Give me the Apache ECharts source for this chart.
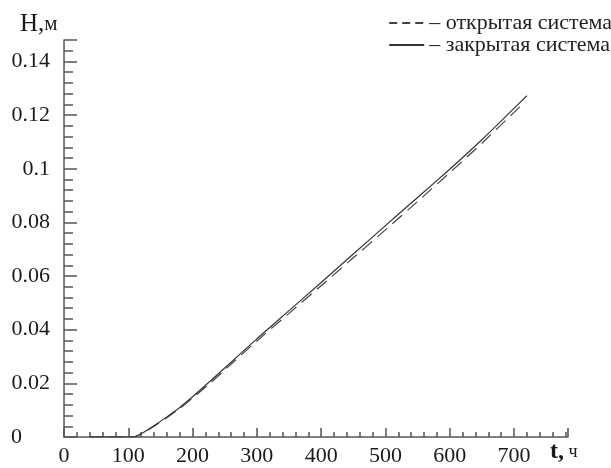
<!DOCTYPE html>
<html>
<head>
<meta charset="utf-8">
<script src="https://cdn.jsdelivr.net/npm/echarts@6/dist/echarts.min.js"></script>
<style>
  html, body { margin: 0; padding: 0; background: #fff; }
  #chart { width: 611px; height: 468px; }
</style>
</head>
<body>
<div id="chart"></div>
<script>
// t, ч  /  H, м
var openSys = [
  [40, 0], [108, 0], [120, 0.0011], [140, 0.0040], [160, 0.0072], [180, 0.0106],
  [200, 0.0145], [225, 0.0196], [250, 0.0250], [300, 0.0358], [350, 0.0461],
  [400, 0.0564], [450, 0.0668], [500, 0.0772], [550, 0.0878], [600, 0.0985],
  [650, 0.1095], [700, 0.1210], [717, 0.1250]
]
var closedSys = [
  [40, 0], [108, 0], [120, 0.0012], [140, 0.0042], [160, 0.0075], [180, 0.0110],
  [200, 0.0150], [225, 0.0203], [250, 0.0257], [300, 0.0366], [350, 0.0471],
  [400, 0.0576], [450, 0.0682], [500, 0.0788], [550, 0.0893], [600, 0.0998],
  [650, 0.1108], [700, 0.1225], [720, 0.1272]
]
var seriesNames = ['– открытая система', '– закрытая система']

var serif = '"Liberation Serif", "DejaVu Serif", serif'
var chart = echarts.init(document.getElementById('chart'))

chart.setOption({
  animation: false,
  backgroundColor: '#fff',
  grid: { left: 64, right: 43, top: 40, bottom: 31 },
  legend: {
    orient: 'vertical',
    right: -6,
    top: 7,
    itemWidth: 35,
    itemHeight: 8,
    itemGap: 0,
    itemStyle: { opacity: 0 },
    textStyle: { fontFamily: serif, fontSize: 22, color: '#222' },
    data: [
      { name: seriesNames[0], lineStyle: { type: [8, 5] } },
      { name: seriesNames[1] }
    ]
  },
  xAxis: {
    type: 'value',
    min: 0,
    max: 784,
    interval: 100,
    axisLine: { lineStyle: { color: '#555', width: 1.5 } },
    axisTick: { inside: true, length: 9, lineStyle: { color: '#555', width: 1.5 } },
    minorTick: { show: true, splitNumber: 5, length: 5, lineStyle: { color: '#555', width: 1.5 } },
    splitLine: { show: false },
    axisLabel: {
      fontFamily: serif, fontSize: 22, color: '#1a1a1a', margin: 8,
      showMaxLabel: false,
      formatter: function (v) { return v > 700 ? '' : v }
    }
  },
  yAxis: {
    type: 'value',
    min: 0,
    max: 0.148,
    interval: 0.02,
    axisLine: { lineStyle: { color: '#555', width: 1.5 } },
    axisTick: { inside: true, length: 13, lineStyle: { color: '#555', width: 1.5 } },
    minorTick: { show: true, splitNumber: 5, length: 9, lineStyle: { color: '#555', width: 1.5 } },
    splitLine: { show: false },
    axisLabel: {
      fontFamily: serif, fontSize: 22, color: '#1a1a1a', margin: 14,
      showMaxLabel: false,
      formatter: function (v) {
        if (v > 0.145) return ''
        if (v === 0) return '{z|0}'
        return +v.toFixed(2) + ''
      },
      rich: { z: { fontFamily: serif, fontSize: 22, color: '#1a1a1a', padding: [0, 28, 0, 0] } }
    }
  },
  graphic: [
    {
      type: 'text', left: 20, top: 12,
      style: {
        text: '{a|H,}{b|м}',
        rich: {
          a: { fontFamily: serif, fontSize: 25, fill: '#1a1a1a' },
          b: { fontFamily: serif, fontSize: 21, fill: '#1a1a1a' }
        }
      }
    },
    {
      type: 'text', left: 550, top: 440,
      style: {
        text: '{a|t,}{b| ч}',
        rich: {
          a: { fontFamily: serif, fontSize: 24, fontWeight: 'bold', fill: '#1a1a1a' },
          b: { fontFamily: serif, fontSize: 18, fill: '#1a1a1a' }
        }
      }
    }
  ],
  series: [
    {
      name: seriesNames[0],
      type: 'line',
      symbol: 'none',
      smooth: 0.2,
      data: openSys,
      lineStyle: { color: '#444', width: 1.2, type: [13, 7] },
      itemStyle: { color: '#444' }
    },
    {
      name: seriesNames[1],
      type: 'line',
      symbol: 'none',
      smooth: 0.2,
      data: closedSys,
      lineStyle: { color: '#333', width: 1.2 },
      itemStyle: { color: '#333' }
    }
  ]
})
</script>
</body>
</html>
